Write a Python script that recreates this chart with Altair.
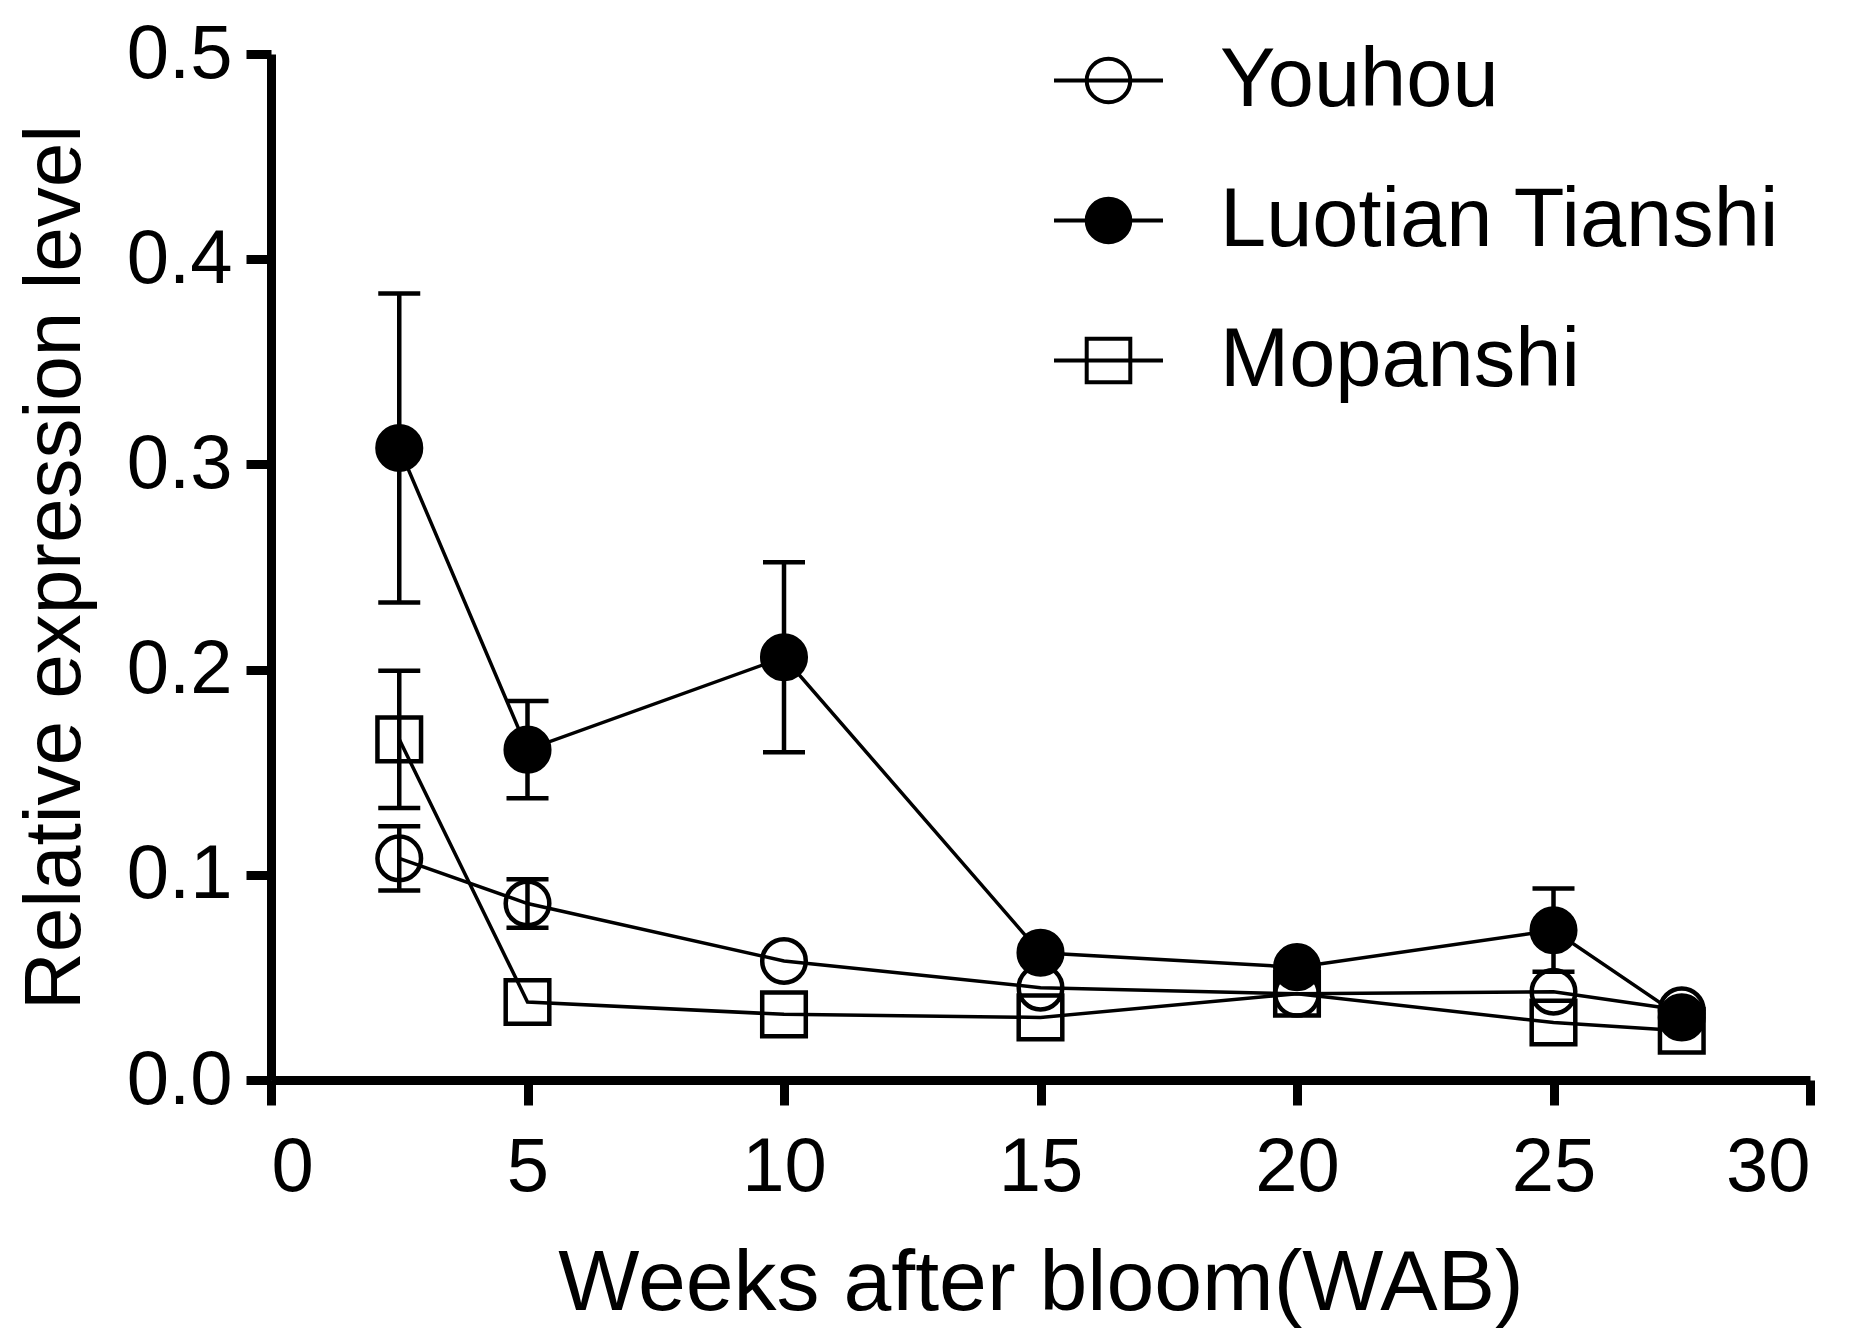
import altair as alt
import pandas as pd

# ---- data ----
weeks = [2.5, 5, 10, 15, 20, 25, 27.5]
series_names = ["Youhou", "Luotian Tianshi", "Mopanshi"]

youhou = [0.108, 0.086, 0.058, 0.045, 0.042, 0.043, 0.034]
youhou_err = [0.0157, 0.0118, 0, 0, 0, 0, 0]

luotian = [0.308, 0.161, 0.206, 0.062, 0.055, 0.073, 0.0305]
luotian_err = [0.0753, 0.0237, 0.0463, 0, 0, 0.0203, 0]

mopanshi = [0.166, 0.038, 0.032, 0.0305, 0.042, 0.028, 0.024]
mopanshi_err = [0.0335, 0, 0, 0, 0, 0, 0]

x_ticks = [0, 5, 10, 15, 20, 25, 30]
y_ticks = [0.0, 0.1, 0.2, 0.3, 0.4, 0.5]

rows = []
for name, vals, errs in [
    ("Youhou", youhou, youhou_err),
    ("Luotian Tianshi", luotian, luotian_err),
    ("Mopanshi", mopanshi, mopanshi_err),
]:
    for w, v, e in zip(weeks, vals, errs):
        rows.append({"series": name, "week": w, "value": v, "err": e,
                     "lo": v - e, "hi": v + e})
df = pd.DataFrame(rows)

FONT = "Liberation Sans"

xscale = alt.Scale(domain=[0, 30], nice=False, zero=False)
yscale = alt.Scale(domain=[0, 0.5], nice=False)
xaxis = alt.Axis(values=x_ticks, title="Weeks after bloom(WAB)", format="d")
yaxis = alt.Axis(values=y_ticks, title="Relative expression level", format=".1f")

X = alt.X("week:Q", scale=xscale, axis=xaxis)


def Y(field):
    return alt.Y(field, type="quantitative", scale=yscale, axis=yaxis)


base = alt.Chart(df)

err = base.transform_filter("datum.err > 0")
rules = err.mark_rule(color="black", strokeWidth=4.5, opacity=1).encode(
    x=X, y=Y("lo"), y2="hi"
)
caps_hi = err.mark_tick(orient="horizontal", size=42, thickness=4.5,
                        color="black", opacity=1).encode(x=X, y=Y("hi"))
caps_lo = err.mark_tick(orient="horizontal", size=42, thickness=4.5,
                        color="black", opacity=1).encode(x=X, y=Y("lo"))

lines = base.mark_line(color="black", strokeWidth=3.5).encode(
    x=X, y=Y("value"), detail="series:N"
)

MSIZE = 1900
points = base.mark_point(size=MSIZE, strokeWidth=4.5, color="black", opacity=1).encode(
    x=X,
    y=Y("value"),
    shape=alt.Shape("series:N", scale=alt.Scale(domain=series_names,
                                                 range=["circle", "circle", "square"]),
                    legend=None),
    fill=alt.Fill("series:N", scale=alt.Scale(domain=series_names,
                                               range=["transparent", "black", "transparent"]),
                  legend=None),
)

circ_path = "M-2.5,0H2.5M-1,0A1,1 0 1,1 1,0A1,1 0 1,1 -1,0Z"
sq_path = "M-2.5,0H2.5M-1,-1H1V1H-1Z"

leg = alt.Legend(
    title=None,
    orient="none",
    legendX=796,
    legendY=-15,
    padding=0,
    labelFont=FONT,
    labelFontSize=83,
    labelColor="black",
    labelLimit=1000,
    labelOffset=70,
    rowPadding=56,
    symbolSize=MSIZE,
    symbolStrokeWidth=4,
    symbolStrokeColor="black",
    symbolOpacity=1,
)

legend_layer = base.transform_filter("false").mark_point(
    size=MSIZE, strokeWidth=4, color="black", opacity=1
).encode(
    x=X,
    y=Y("value"),
    shape=alt.Shape("series:N", scale=alt.Scale(domain=series_names,
                                                 range=[circ_path, circ_path, sq_path]),
                    legend=leg, sort=series_names),
    fill=alt.Fill("series:N", scale=alt.Scale(domain=series_names,
                                               range=["transparent", "black", "transparent"]),
                  legend=leg, sort=series_names),
    stroke=alt.Stroke("series:N", scale=alt.Scale(domain=series_names,
                                                   range=["black", "black", "black"]),
                      legend=leg, sort=series_names),
)

chart = (
    alt.layer(rules, caps_hi, caps_lo, lines, points, legend_layer)
    .resolve_scale(shape="independent", fill="independent", stroke="independent")
    .properties(
        width=1539,
        height=1026,
        autosize=alt.AutoSizeParams(type="none"),
        padding={"left": 263, "top": 46, "right": 40, "bottom": 255},
        background="white",
    )
    .configure_view(stroke=None)
    .configure_axis(
        domainColor="black",
        domainWidth=9,
        tickColor="black",
        tickWidth=9,
        tickSize=25,
        grid=False,
        labelFont=FONT,
        labelFontSize=76,
        labelColor="black",
        titleFont=FONT,
        titleFontWeight="normal",
        titleColor="black",
    )
    .configure_axisX(labelPadding=25, titleFontSize=86, titlePadding=36)
    .configure_axisY(labelPadding=14, titleFontSize=80, titlePadding=30)
)

chart.save("out.html", embed_options={"renderer": "svg", "actions": False})
